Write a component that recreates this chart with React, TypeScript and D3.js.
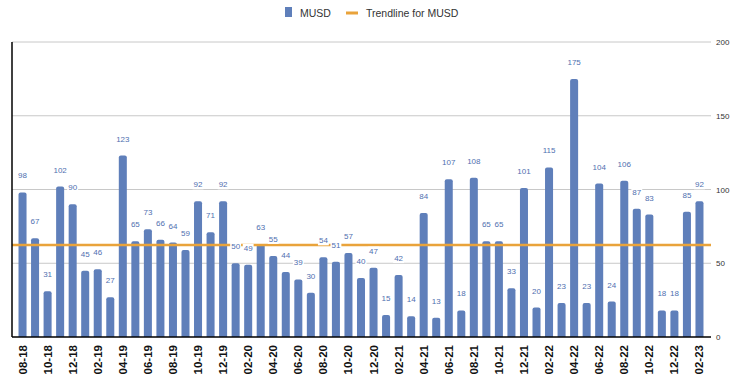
import { useRef, useEffect } from 'react'
import * as d3 from 'd3'

// monthly values, 08-18 .. 02-23
const months: string[] = [
  '08-18', '09-18', '10-18', '11-18', '12-18',
  '01-19', '02-19', '03-19', '04-19', '05-19', '06-19', '07-19', '08-19', '09-19', '10-19', '11-19', '12-19',
  '01-20', '02-20', '03-20', '04-20', '05-20', '06-20', '07-20', '08-20', '09-20', '10-20', '11-20', '12-20',
  '01-21', '02-21', '03-21', '04-21', '05-21', '06-21', '07-21', '08-21', '09-21', '10-21', '11-21', '12-21',
  '01-22', '02-22', '03-22', '04-22', '05-22', '06-22', '07-22', '08-22', '09-22', '10-22', '11-22', '12-22',
  '01-23', '02-23',
]
const musd: number[] = [
  98, 67, 31, 102, 90,
  45, 46, 27, 123, 65, 73, 66, 64, 59, 92, 71, 92,
  50, 49, 63, 55, 44, 39, 30, 54, 51, 57, 40, 47,
  15, 42, 14, 84, 13, 107, 18, 108, 65, 65, 33, 101,
  20, 115, 23, 175, 23, 104, 24, 106, 87, 83, 18, 18,
  85, 92,
]
const yTicks: number[] = [0, 50, 100, 150, 200]

const barColor = '#5f7fba'
const labelColor = '#4f6fb0'
const trendColor = '#e9a33b'

export default function App() {
  const svgRef = useRef(null)

  const width: number = 735
  const height: number = 384
  const left = 12, right = 711, top = 42, bottom = 337

  useEffect(() => {
    const svg = d3.select(svgRef.current)
    svg.selectAll('*').remove()

    const x = d3.scaleBand<string>().domain(months).range([14, 708]).padding(0.36)
    const y = d3.scaleLinear().domain([0, 200]).range([bottom, top])

    // gridlines
    svg.append('g')
      .selectAll('line')
      .data(yTicks.filter(t => t > 0))
      .enter()
      .append('line')
      .attr('x1', left).attr('x2', right)
      .attr('y1', d => y(d)).attr('y2', d => y(d))
      .attr('stroke', '#c8c8c8').attr('stroke-width', 1)

    // right axis labels
    svg.append('g')
      .selectAll('text')
      .data(yTicks)
      .enter()
      .append('text')
      .attr('x', 716).attr('y', d => y(d) + 3)
      .attr('font-size', 8)
      .attr('fill', '#333')
      .text(d => d)

    // bars with rounded tops
    const r = 2
    const bw = x.bandwidth()
    svg.append('g')
      .selectAll('path')
      .data(musd)
      .enter()
      .append('path')
      .attr('fill', barColor)
      .attr('d', (d, i) => {
        const x0 = x(months[i])!
        const y0 = y(d)
        return `M${x0},${bottom}V${y0 + r}Q${x0},${y0} ${x0 + r},${y0}H${x0 + bw - r}Q${x0 + bw},${y0} ${x0 + bw},${y0 + r}V${bottom}Z`
      })

    // trendline (flat fit = mean)
    const trend = d3.mean(musd)!
    svg.append('line')
      .attr('x1', left).attr('x2', right)
      .attr('y1', y(trend)).attr('y2', y(trend))
      .attr('stroke', trendColor).attr('stroke-width', 2.5)

    // axes lines
    svg.append('line').attr('x1', left).attr('x2', left).attr('y1', top).attr('y2', bottom)
      .attr('stroke', '#000').attr('stroke-width', 1.5)
    svg.append('line').attr('x1', left).attr('x2', right).attr('y1', bottom).attr('y2', bottom)
      .attr('stroke', '#000').attr('stroke-width', 1.5)

    // value labels
    const labels = svg.append('g')
      .selectAll('g')
      .data(musd)
      .enter()
      .append('g')
      .attr('transform', (d, i) => `translate(${x(months[i])! + bw / 2},${y(d) - 14})`)
    labels.append('rect')
      .attr('x', d => -(String(d).length * 4.45 + 2) / 2)
      .attr('y', -7)
      .attr('width', d => String(d).length * 4.45 + 2)
      .attr('height', 9)
      .attr('fill', '#fff')
    labels.append('text')
      .attr('text-anchor', 'middle')
      .attr('font-size', 8)
      .attr('fill', labelColor)
      .text(d => d)

    // x tick labels, every other month
    svg.append('g')
      .selectAll('text')
      .data(months.filter((m, i) => i % 2 === 0))
      .enter()
      .append('text')
      .attr('transform', d => `translate(${x(d)! + bw / 2 + 4},345) rotate(-90)`)
      .attr('text-anchor', 'end')
      .attr('font-size', 11.5)
      .attr('font-weight', 'bold')
      .attr('fill', '#111')
      .text(d => d)

    // legend
    const legend = svg.append('g')
    legend.append('rect').attr('x', 285).attr('y', 7).attr('width', 7).attr('height', 10).attr('fill', barColor)
    legend.append('text').attr('x', 300).attr('y', 16.5).attr('font-size', 10.5).attr('fill', '#333').text('MUSD')
    legend.append('line').attr('x1', 346).attr('x2', 358).attr('y1', 13).attr('y2', 13)
      .attr('stroke', trendColor).attr('stroke-width', 3)
    legend.append('text').attr('x', 366).attr('y', 16.5).attr('font-size', 10.5).attr('fill', '#333').text('Trendline for MUSD')
  }, [])

  return (
    <svg
      ref={svgRef}
      width={width}
      height={height}
      style={{ position: 'absolute', left: 0, top: 0, fontFamily: "'Liberation Sans', Arial, sans-serif" }}
    />
  )
}
